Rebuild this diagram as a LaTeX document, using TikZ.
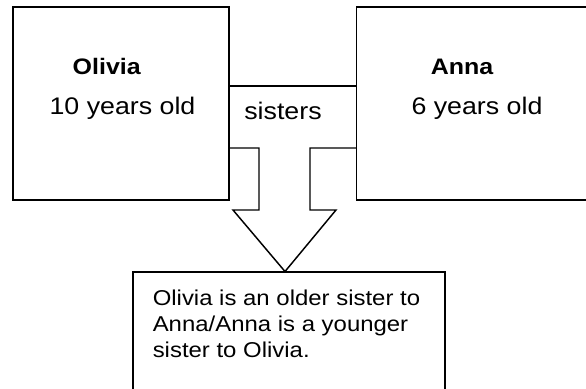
\documentclass[tikz,border=0pt]{standalone}
\usepackage{fontspec}
\setmainfont{Liberation Sans}[FakeStretch=1.115]
\begin{document}
\begin{tikzpicture}[x=0.75pt,y=-0.75pt,
  box/.style={draw=black,line width=1.1pt},
  lbl/.style={inner sep=0pt,anchor=base,font=\fontsize{18}{21}\selectfont},
  bold/.style={inner sep=0pt,anchor=base,font=\fontsize{16.8}{20}\selectfont\bfseries},
  note/.style={inner sep=0pt,anchor=base west,font=\fontsize{16.1}{19.5}\selectfont}]
\useasboundingbox (0,0) rectangle (586,389);
\clip (0,0) rectangle (586,389);
\fill[white] (0,0) rectangle (586,389);
% boxes
\draw[box] (13,7) coordinate (oliviaNW) rectangle (229,200) coordinate (oliviaSE);
\draw[box] (356.5,7) coordinate (annaNW) rectangle (610,200) coordinate (annaSE);
\draw[box] (133,272) coordinate (noteNW) rectangle (445,420) coordinate (noteSE);
% connector
\coordinate (ctl) at (229,86);
\coordinate (ctr) at (356.5,86);
\coordinate (tip) at (285,271.5);
\draw[box] (ctl) -- (ctr);
\draw[box,line join=miter] (229,148) -- (259,148) -- (259,210) -- (233,210) -- (tip)
  -- (336,210) -- (310,210) -- (310,148) -- (356.5,148);
% texts
\node[bold] (olivia) at (106.7,74.5) {Olivia};
\node[lbl] (oliviaage) at (122.5,114.5) {10 years old};
\node[bold] (anna) at (462,74.5) {Anna};
\node[lbl] (annaage) at (477,114.5) {6 years old};
\node[lbl] (sisters) at (283,119.5) {sisters};
\node[note] (l1) at (152.5,305.3) {Olivia is an older sister to};
\node[note] (l2) at (152.5,331.3) {Anna/Anna is a younger};
\node[note] (l3) at (152.5,357.2) {sister to Olivia.};
\end{tikzpicture}
\end{document}
